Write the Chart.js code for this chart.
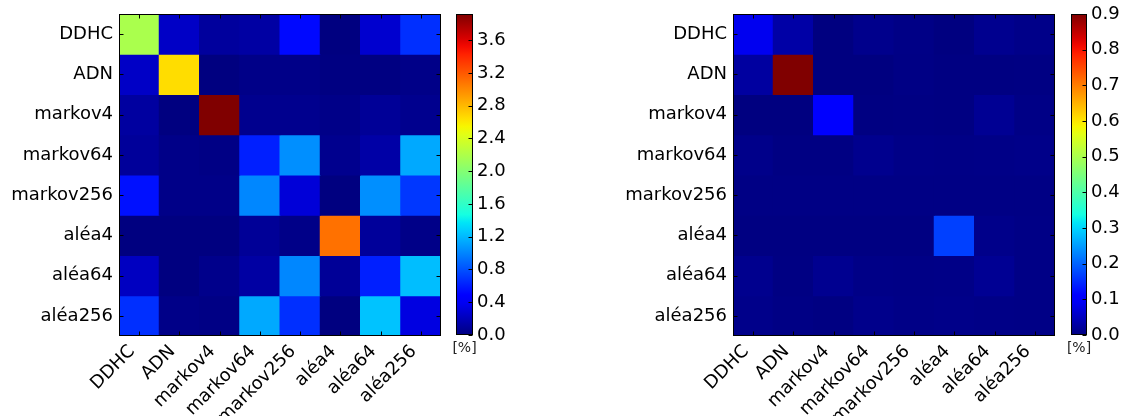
<!DOCTYPE html>
<html>
<head>
<meta charset="utf-8">
<script src="https://cdn.jsdelivr.net/npm/chart.js@4.4.1/dist/chart.umd.min.js"></script>
<style>
  html, body { margin: 0; padding: 0; background: #fff; }
  #wrap { position: relative; width: 1129px; height: 416px; overflow: hidden; }
  canvas { position: absolute; top: 0; }
</style>
</head>
<body>
<div id="wrap">
  <canvas id="h1" width="460" height="416" style="left:0px"></canvas>
  <canvas id="c1" width="100" height="416" style="left:440px"></canvas>
  <canvas id="h2" width="520" height="416" style="left:560px"></canvas>
  <canvas id="c2" width="79" height="416" style="left:1050px"></canvas>
</div>
<script>
// ---------------- data ----------------
const categories = ['DDHC', 'ADN', 'markov4', 'markov64', 'markov256', 'aléa4', 'aléa64', 'aléa256'];

// left matrix, rows = categories (top to bottom), columns = categories (left to right), in %
const leftValues = [
  [2.18, 0.24, 0.10, 0.12, 0.52, 0.00, 0.27, 0.67],
  [0.24, 2.65, 0.00, 0.03, 0.03, 0.01, 0.01, 0.03],
  [0.11, 0.00, 3.92, 0.05, 0.05, 0.03, 0.08, 0.05],
  [0.09, 0.03, 0.02, 0.61, 1.04, 0.05, 0.13, 1.14],
  [0.55, 0.03, 0.03, 1.01, 0.30, 0.00, 1.04, 0.70],
  [0.00, 0.00, 0.00, 0.08, 0.03, 3.10, 0.09, 0.03],
  [0.22, 0.00, 0.04, 0.12, 1.01, 0.08, 0.61, 1.22],
  [0.67, 0.03, 0.02, 1.14, 0.67, 0.00, 1.24, 0.33]
];
// right matrix, in %
const rightValues = [
  [0.087, 0.030, 0.000, 0.010, 0.005, 0.000, 0.012, 0.007],
  [0.025, 0.900, 0.000, 0.000, 0.004, 0.002, 0.002, 0.003],
  [0.000, 0.000, 0.103, 0.002, 0.003, 0.002, 0.015, 0.005],
  [0.008, 0.003, 0.003, 0.011, 0.006, 0.005, 0.006, 0.007],
  [0.004, 0.004, 0.004, 0.004, 0.004, 0.004, 0.004, 0.004],
  [0.002, 0.002, 0.002, 0.002, 0.002, 0.169, 0.008, 0.005],
  [0.011, 0.003, 0.013, 0.006, 0.005, 0.006, 0.015, 0.005],
  [0.008, 0.004, 0.002, 0.009, 0.006, 0.007, 0.006, 0.005]
];

const leftMax = 3.92;
const rightMax = 0.9;
const leftTicks = [0.0, 0.4, 0.8, 1.2, 1.6, 2.0, 2.4, 2.8, 3.2, 3.6];
const rightTicks = [0.0, 0.1, 0.2, 0.3, 0.4, 0.5, 0.6, 0.7, 0.8, 0.9];
const unitLabel = '[%]';

// ---------------- jet colormap ----------------
function interp(x, xs, ys) {
  if (x <= xs[0]) return ys[0];
  for (let i = 1; i < xs.length; i++) {
    if (x <= xs[i]) {
      const t = (x - xs[i - 1]) / (xs[i] - xs[i - 1]);
      return ys[i - 1] + t * (ys[i] - ys[i - 1]);
    }
  }
  return ys[ys.length - 1];
}
function jet(t) {
  t = Math.max(0, Math.min(1, t));
  const r = interp(t, [0, 0.35, 0.66, 0.89, 1], [0, 0, 1, 1, 0.5]);
  const g = interp(t, [0, 0.125, 0.375, 0.64, 0.91, 1], [0, 0, 1, 1, 0, 0]);
  const b = interp(t, [0, 0.11, 0.34, 0.65, 1], [0.5, 1, 1, 0, 0]);
  return 'rgb(' + Math.round(r * 255) + ',' + Math.round(g * 255) + ',' + Math.round(b * 255) + ')';
}

Chart.defaults.font.family = "'DejaVu Sans', sans-serif";
Chart.defaults.color = '#000';

// frame + inward tick marks (matplotlib style) + optional unit label under the area
const framePlugin = {
  id: 'frame',
  afterDraw(chart, args, opts) {
    const { ctx, chartArea: a } = chart;
    ctx.save();
    ctx.strokeStyle = '#000';
    ctx.lineWidth = 1;
    const L = Math.round(a.left) + 0.5, R = Math.round(a.right) - 0.5;
    const T = Math.round(a.top) + 0.5, B = Math.round(a.bottom) - 0.5;
    ctx.strokeRect(L, T, R - L, B - T);
    const len = 4;
    ctx.beginPath();
    if (opts.xTicks) {
      const xs = chart.scales.x;
      xs.ticks.forEach((t, i) => {
        const px = Math.round(xs.getPixelForTick(i)) + 0.5;
        ctx.moveTo(px, B); ctx.lineTo(px, B - len);
        ctx.moveTo(px, T); ctx.lineTo(px, T + len);
      });
    }
    if (opts.yTicks) {
      const ys = chart.scales.y;
      ys.ticks.forEach((t, i) => {
        const py = Math.round(ys.getPixelForTick(i)) + 0.5;
        if (opts.yLeft) { ctx.moveTo(L, py); ctx.lineTo(L + len, py); }
        ctx.moveTo(R, py); ctx.lineTo(R - len, py);
      });
    }
    ctx.stroke();
    if (opts.unit) {
      ctx.fillStyle = '#222';
      ctx.font = "14px 'DejaVu Sans', sans-serif";
      ctx.textAlign = 'center';
      ctx.textBaseline = 'middle';
      ctx.fillText(opts.unit, (a.left + a.right) / 2, a.bottom + 13);
    }
    ctx.restore();
  }
};

function heatmap(id, values, vmax, yAxisWidth, rightPad) {
  const datasets = categories.map((rowName, i) => ({
    label: rowName,
    data: categories.map(() => 1),
    backgroundColor: values[i].map(v => jet(v / vmax)),
    borderWidth: 0,
    inflateAmount: 0.5,
    barPercentage: 1,
    categoryPercentage: 1
  }));
  new Chart(document.getElementById(id), {
    type: 'bar',
    data: { labels: categories, datasets },
    plugins: [framePlugin],
    options: {
      responsive: false,
      animation: false,
      devicePixelRatio: 1,
      layout: { padding: { top: 14, right: rightPad, left: 0, bottom: 0 } },
      plugins: {
        legend: { display: false },
        tooltip: { enabled: false },
        frame: { xTicks: true, yTicks: true, yLeft: true }
      },
      scales: {
        x: {
          type: 'category',
          stacked: true,
          grid: { display: false, drawTicks: false },
          border: { display: false },
          ticks: { font: { size: 18 }, minRotation: 45, maxRotation: 45, autoSkip: false, padding: 5, labelOffset: -7 },
          afterFit(s) { s.height = 80; s.paddingLeft = 0; s.paddingRight = 0; }
        },
        y: {
          type: 'linear',
          stacked: true,
          reverse: true,
          min: 0,
          max: categories.length,
          grid: { display: false, drawTicks: false },
          border: { display: false },
          ticks: {
            font: { size: 18 },
            padding: 6,
            callback: (v, i) => categories[i]
          },
          afterBuildTicks(s) { s.ticks = categories.map((c, i) => ({ value: i + 0.5 })); },
          afterFit(s) { s.width = yAxisWidth; s.paddingTop = 0; s.paddingBottom = 0; }
        }
      }
    }
  });
}

function colorbar(id, vmax, tickValues, leftPad, axisWidth) {
  new Chart(document.getElementById(id), {
    type: 'bar',
    data: {
      labels: [''],
      datasets: [{
        data: [vmax],
        borderWidth: 0,
        barPercentage: 1,
        categoryPercentage: 1,
        backgroundColor(c) {
          const a = c.chart.chartArea;
          if (!a) return '#000080';
          const g = c.chart.ctx.createLinearGradient(0, a.bottom, 0, a.top);
          for (let k = 0; k <= 40; k++) g.addColorStop(k / 40, jet(k / 40));
          return g;
        }
      }]
    },
    plugins: [framePlugin],
    options: {
      responsive: false,
      animation: false,
      devicePixelRatio: 1,
      layout: { padding: { top: 14, left: leftPad, right: 0, bottom: 81 } },
      plugins: {
        legend: { display: false },
        tooltip: { enabled: false },
        frame: { xTicks: false, yTicks: true, yLeft: false, unit: unitLabel }
      },
      scales: {
        x: { display: false },
        y: {
          position: 'right',
          min: 0,
          max: vmax,
          grid: { display: false, drawTicks: false },
          border: { display: false },
          ticks: { font: { size: 18 }, padding: 4, callback: v => Number(v).toFixed(1) },
          afterBuildTicks(s) { s.ticks = tickValues.map(v => ({ value: v })); },
          afterFit(s) { s.width = axisWidth; s.paddingTop = 0; s.paddingBottom = 0; }
        }
      }
    }
  });
}

heatmap('h1', leftValues, leftMax, 119, 19);
colorbar('c1', leftMax, leftTicks, 16, 67);
heatmap('h2', rightValues, rightMax, 173, 25);
colorbar('c2', rightMax, rightTicks, 21, 42);
</script>
</body>
</html>
